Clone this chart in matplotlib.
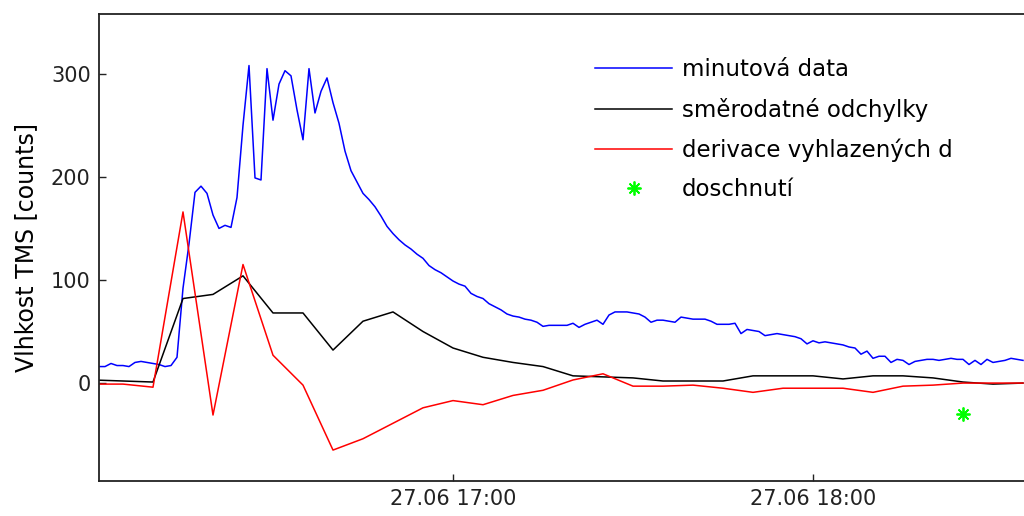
import numpy as np
import matplotlib.pyplot as plt

# minute-by-minute readings, minutes after 16:00 on 27.06
minute_t = np.arange(1, 156)
minute_vals = [
    16, 16, 19, 17, 17, 16, 20, 21, 20, 19, 18, 16, 17, 25,
    92, 135, 185, 191, 184, 163, 150, 153, 151, 180, 250,
    308, 199, 197, 305, 255, 290, 303, 298, 265, 236, 305, 262, 283, 296, 272, 252, 225,
    206, 195, 184, 178, 171, 162, 152, 145, 139, 134, 130, 125, 121,
    114, 110, 107, 103, 99, 96, 94, 87, 84, 82, 77, 74, 71, 67, 65,
    64, 62, 61, 59, 55, 56, 56, 56, 56, 58, 54, 57, 59, 61, 57, 66, 69, 69, 69, 68,
    67, 64, 59, 61, 61, 60, 59, 64, 63, 62, 62, 62, 60, 57, 57, 57, 58, 48, 52, 51,
    50, 46, 47, 48, 47, 46, 45, 43, 38, 41, 39, 40, 39, 38, 37, 35, 34, 28, 31, 24,
    26, 26, 20, 23, 22, 18, 21, 22, 23, 23, 22, 23, 24, 23, 23, 18, 22, 18, 23, 20,
    21, 22, 24, 23, 22,
]

# 5-minute window statistics
window_t = np.arange(0, 160, 5)
std_vals = [3, 2, 1, 82, 86, 104, 68, 68, 32, 60, 69, 50, 34, 25, 20, 16,
            7, 6, 5, 2, 2, 2, 7, 7, 7, 4, 7, 7, 5, 1, -1, 0]
deriv_vals = [-1, -1, -4, 166, -31, 115, 27, -2, -65, -54, -39, -24, -17, -21, -12, -7,
              3, 9, -3, -3, -2, -5, -9, -5, -5, -5, -9, -3, -2, 0, 0, 0]

dry_t = [145]
dry_val = [-30]

xtick_pos = [60, 120]
xtick_labels = ['27.06 17:00', '27.06 18:00']

plt.rcParams['font.family'] = 'DejaVu Sans'
plt.rcParams['font.size'] = 15

fig = plt.figure(figsize=(10.24, 5.16), dpi=100)
ax = fig.add_axes([99 / 1024, 35 / 516, 930 / 1024, 467 / 516])

ax.plot(minute_t, minute_vals, color='#0000ff', lw=1.1, label='minutová data')
ax.plot(window_t, std_vals, color='black', lw=1.1, label='směrodatné odchylky')
ax.plot(window_t, deriv_vals, color='#ff0000', lw=1.1, label='derivace vyhlazených d')
ax.plot(dry_t, dry_val, linestyle='none', marker=(8, 2, 0), markersize=10,
        markeredgewidth=1.3, color='#00ff00', label='doschnutí')

ax.set_xlim(1, 156)
ax.set_ylim(-95, 358)
ax.set_xticks(xtick_pos)
ax.set_xticklabels(xtick_labels)
ax.set_yticks([0, 100, 200, 300])
ax.tick_params(direction='in', length=5, width=1, colors='#222222', pad=6)
for s in ax.spines.values():
    s.set_linewidth(1.3)
    s.set_color('#222222')

ax.set_ylabel('Vlhkost TMS [counts]', fontsize=17, labelpad=9)

ax.legend(loc='upper left', bbox_to_anchor=(0.523, 0.925), frameon=False, fontsize=16.5,
          handlelength=3.4, handletextpad=0.4, labelspacing=0.72, borderaxespad=0)

fig.savefig('out.png', dpi=100)
